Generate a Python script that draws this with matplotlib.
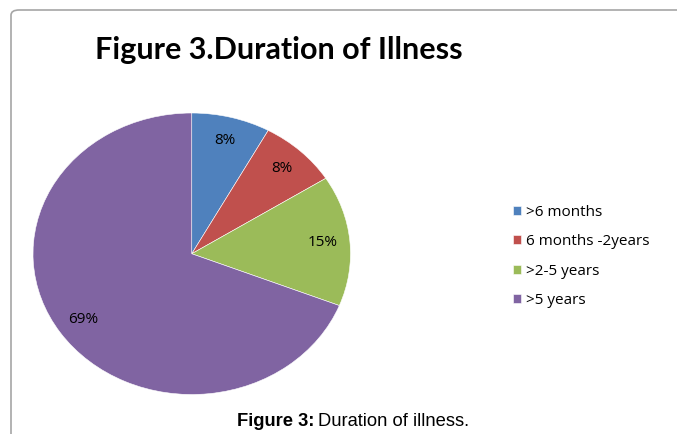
import matplotlib
matplotlib.use("Agg")
from matplotlib import pyplot as plt
from matplotlib.patches import FancyBboxPatch

# datos del grafico
categorias = [">6 months", "6 months -2years", ">2-5 years", ">5 years"]
porcentajes = [8, 8, 15, 69]
colores = ["#4F81BD", "#C0504D", "#9BBB59", "#8064A2"]

W, H = 677, 434
fig = plt.figure(figsize=(W / 100, H / 100), dpi=100)

# marco del area del grafico (redondeado, se sale por la derecha y abajo)
marco = FancyBboxPatch((11 / W, -0.1), 1.2, (H - 10) / H + 0.1,
                       boxstyle="round,pad=0,rounding_size=0.012",
                       transform=fig.transFigure, fill=False,
                       edgecolor="#a6a6a6", linewidth=1.2)
fig.patches.append(marco)

# el pie esta estirado en horizontal
ax = fig.add_axes([33 / W, 1 - 394.5 / H, 317.5 / W, 281.5 / H])
wedges, textos, pcts = ax.pie(porcentajes, colors=colores, startangle=90,
                              counterclock=False, autopct="%d%%",
                              pctdistance=0.83,
                              wedgeprops=dict(edgecolor="white", linewidth=0.4),
                              textprops=dict(family="Open Sans", fontsize=11, color="black"))
ax.set_aspect("auto")
ax.set_xlim(-1, 1)
ax.set_ylim(-1, 1)

fig.text(95 / W, 1 - 59.5 / H, "Figure 3.Duration of Illness", family="Lato",
         fontweight="bold", fontsize=22, va="baseline", ha="left")

leg = fig.legend(wedges, categorias, loc="upper left",
                 bbox_to_anchor=(499 / W, 1 - 191 / H), frameon=False,
                 prop=dict(family="Open Sans", size=11), handlelength=0.55,
                 handleheight=0.55, handletextpad=0.35, labelspacing=0.95)

t1 = fig.text(237 / W, 1 - 421.5 / H, "Figure 3:", family="Liberation Sans",
              fontweight="bold", fontsize=13.2, va="center", ha="left")
fig.canvas.draw()
bb = t1.get_window_extent()
fig.text((bb.x1 + 4) / W, 1 - 421.5 / H, "Duration of illness.", family="Liberation Sans",
         fontsize=13.2, va="center", ha="left")

fig.savefig("out.png", dpi=100)
